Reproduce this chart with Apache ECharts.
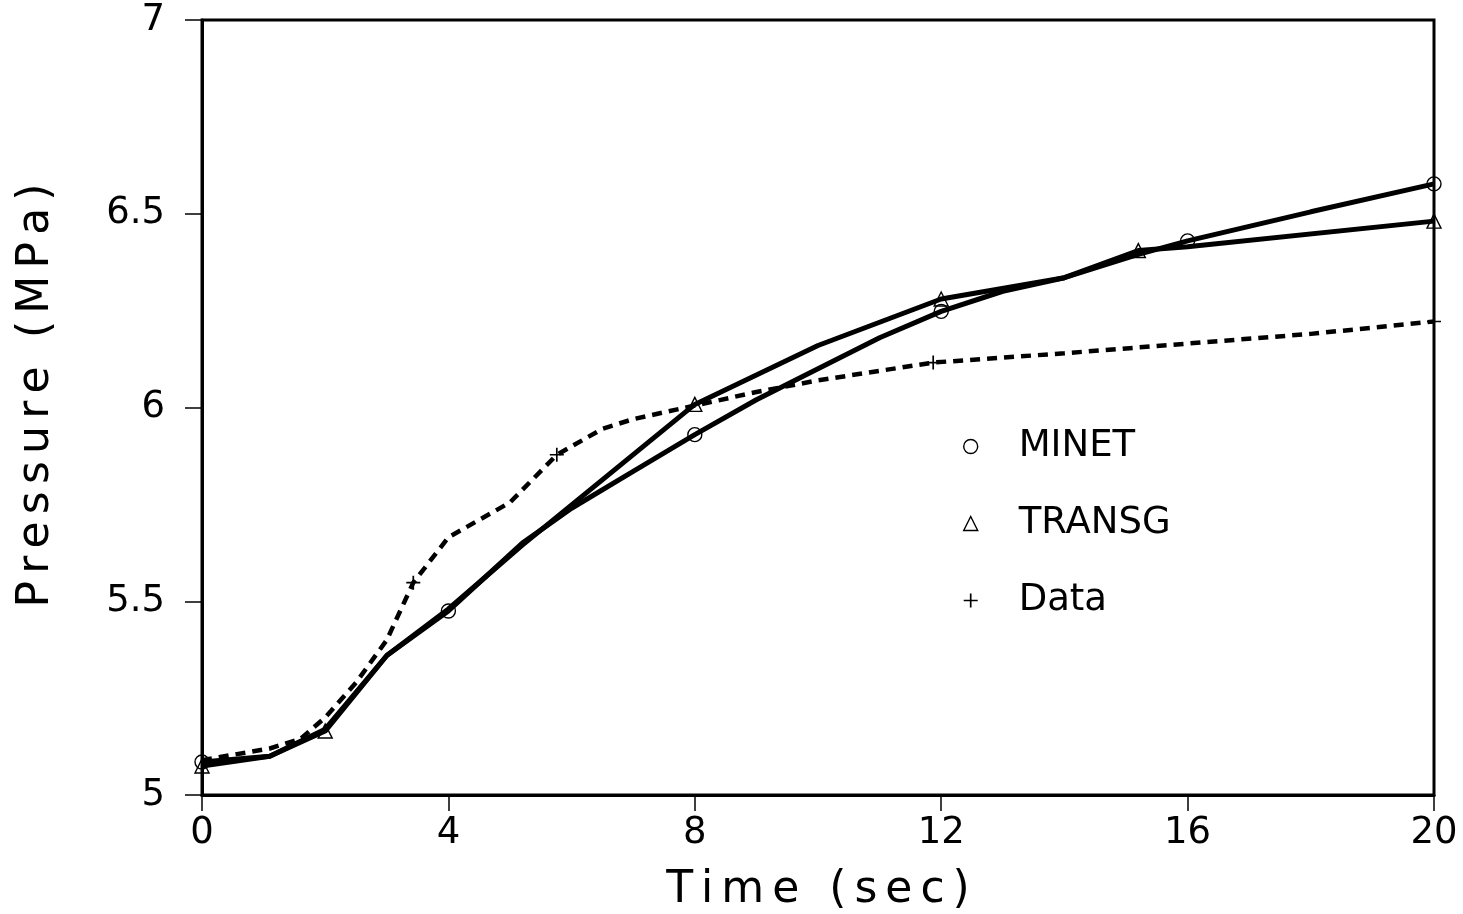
<!DOCTYPE html>
<html>
<head>
<meta charset="utf-8">
<title>Pressure vs Time</title>
<script src="https://cdn.jsdelivr.net/npm/echarts@6/dist/echarts.min.js"></script>
<style>
  html, body { margin: 0; padding: 0; background: #fff; }
  #chart { width: 1463px; height: 914px; }
</style>
</head>
<body>
<div id="chart"></div>
<script>
// MINET model curve (time in s, pressure in MPa) and the points carrying a circle marker
const minetTime     = [0, 1.1, 2, 3, 4, 5.2, 6, 7, 8, 9, 10, 11, 12, 13, 14, 15.2, 16, 18, 20];
const minetPressure = [5.085, 5.10, 5.17, 5.36, 5.475, 5.65, 5.74, 5.835, 5.93, 6.02, 6.10, 6.18, 6.248, 6.30, 6.335, 6.395, 6.43, 6.505, 6.577];
const minetMarked   = [0, 4, 8, 12, 16, 20];

// TRANSG model curve and its triangle-marked points
const transgTime     = [0, 1.1, 2, 3, 4, 5.2, 8, 10, 12, 14, 15.2, 16, 20];
const transgPressure = [5.075, 5.10, 5.165, 5.36, 5.48, 5.645, 6.008, 6.16, 6.28, 6.335, 6.405, 6.415, 6.481];
const transgMarked   = [0, 2, 8, 12, 15.2, 20];

// Measured data (dashed) and the points carrying a plus marker
const dataTime     = [0, 1.1, 1.6, 2, 2.5, 3, 3.43, 4, 4.5, 5, 5.76, 6.5, 7, 8, 9, 10, 11.87, 14, 16, 18, 20];
const dataPressure = [5.09, 5.12, 5.145, 5.20, 5.29, 5.40, 5.548, 5.665, 5.71, 5.755, 5.878, 5.945, 5.97, 6.005, 6.04, 6.07, 6.116, 6.14, 6.165, 6.19, 6.222];
const dataMarked   = [3.43, 5.76, 11.87, 20];

// Axis ranges and tick labels
const timeTicks = [0, 4, 8, 12, 16, 20];
const pressureTicks = [5, 5.5, 6, 6.5, 7];

const FONT = 'DejaVu Sans';
const PLUS = 'path://M0,4.4H10V5.6H0Z M4.4,0H5.6V10H4.4Z';

const hollow = { color: 'rgba(0,0,0,0)', borderColor: '#000', borderWidth: 1.4 };
const solidMark = { color: '#000', borderWidth: 0 };

function buildSeriesData(ts, ps, marked, symbol, style) {
  return ts.map((t, i) => {
    const item = { value: [t, ps[i]] };
    if (marked.indexOf(t) >= 0) {
      item.symbol = symbol;
      item.itemStyle = style;
    } else {
      item.symbol = 'none';
    }
    return item;
  });
}

// Wide tracking for axis titles: each character becomes a padded rich-text fragment
function tracked(str) {
  return str.split('').map(ch => '{c|' + ch + '}').join('');
}

const chart = echarts.init(document.getElementById('chart'), null, { renderer: 'canvas' });

const lineCommon = {
  type: 'line',
  showSymbol: true,
  showAllSymbol: true,
  symbolSize: 14,
  smooth: false,
  silent: true,
  z: 3
};

chart.setOption({
  animation: false,
  backgroundColor: '#fff',
  textStyle: { fontFamily: FONT, color: '#000' },
  grid: {
    left: 202, right: 29, top: 20, bottom: 119,
    outerBoundsMode: 'none',
    containLabel: false,
    show: true, borderColor: '#000', borderWidth: 3, backgroundColor: 'transparent'
  },
  legend: {
    orient: 'vertical',
    left: 958,
    top: 423,
    itemWidth: 14,
    itemHeight: 14,
    itemGap: 40,
    selectedMode: false,
    textStyle: { fontFamily: FONT, fontSize: 37, color: '#000', padding: [0, 0, 0, 36] },
    data: [
      { name: 'MINET', icon: 'circle', itemStyle: hollow },
      { name: 'TRANSG', icon: 'triangle', itemStyle: hollow },
      { name: 'Data', icon: PLUS, itemStyle: solidMark }
    ]
  },
  xAxis: {
    type: 'value',
    min: timeTicks[0],
    max: timeTicks[timeTicks.length - 1],
    interval: timeTicks[1] - timeTicks[0],
    name: tracked('Time (sec)'),
    nameLocation: 'middle',
    nameGap: 74,
    nameTextStyle: {
      fontFamily: FONT, fontSize: 44, color: '#000',
      rich: { c: { fontFamily: FONT, fontSize: 44, color: '#000', padding: [0, 4, 0, 4] } }
    },
    axisLine: { show: true, lineStyle: { color: '#000', width: 3 } },
    axisTick: { show: true, inside: false, length: 16, lineStyle: { color: '#000', width: 1.5 } },
    axisLabel: { margin: 20, fontFamily: FONT, fontSize: 37, color: '#000' },
    splitLine: { show: false }
  },
  yAxis: {
    type: 'value',
    min: pressureTicks[0],
    max: pressureTicks[pressureTicks.length - 1],
    interval: pressureTicks[1] - pressureTicks[0],
    name: tracked('Pressure (MPa)'),
    nameLocation: 'middle',
    nameGap: 143,
    nameRotate: 90,
    nameTextStyle: {
      fontFamily: FONT, fontSize: 44, color: '#000',
      padding: [0, 0, 0, 24],
      rich: { c: { fontFamily: FONT, fontSize: 44, color: '#000', padding: [0, 3.6, 0, 3.6] } }
    },
    axisLine: { show: true, lineStyle: { color: '#000', width: 3 } },
    axisTick: { show: true, inside: false, length: 17, lineStyle: { color: '#000', width: 1.5 } },
    axisLabel: { margin: 37, fontFamily: FONT, fontSize: 37, color: '#000', formatter: v => String(v) },
    splitLine: { show: false }
  },
  series: [
    Object.assign({}, lineCommon, {
      name: 'MINET',
      data: buildSeriesData(minetTime, minetPressure, minetMarked, 'circle', hollow),
      lineStyle: { color: '#000', width: 5, type: 'solid' },
      itemStyle: hollow
    }),
    Object.assign({}, lineCommon, {
      name: 'TRANSG',
      data: buildSeriesData(transgTime, transgPressure, transgMarked, 'triangle', hollow),
      lineStyle: { color: '#000', width: 5, type: 'solid' },
      itemStyle: hollow
    }),
    Object.assign({}, lineCommon, {
      name: 'Data',
      data: buildSeriesData(dataTime, dataPressure, dataMarked, PLUS, solidMark),
      lineStyle: { color: '#000', width: 4.5, type: [10, 7] },
      itemStyle: solidMark
    })
  ]
});
</script>
</body>
</html>
